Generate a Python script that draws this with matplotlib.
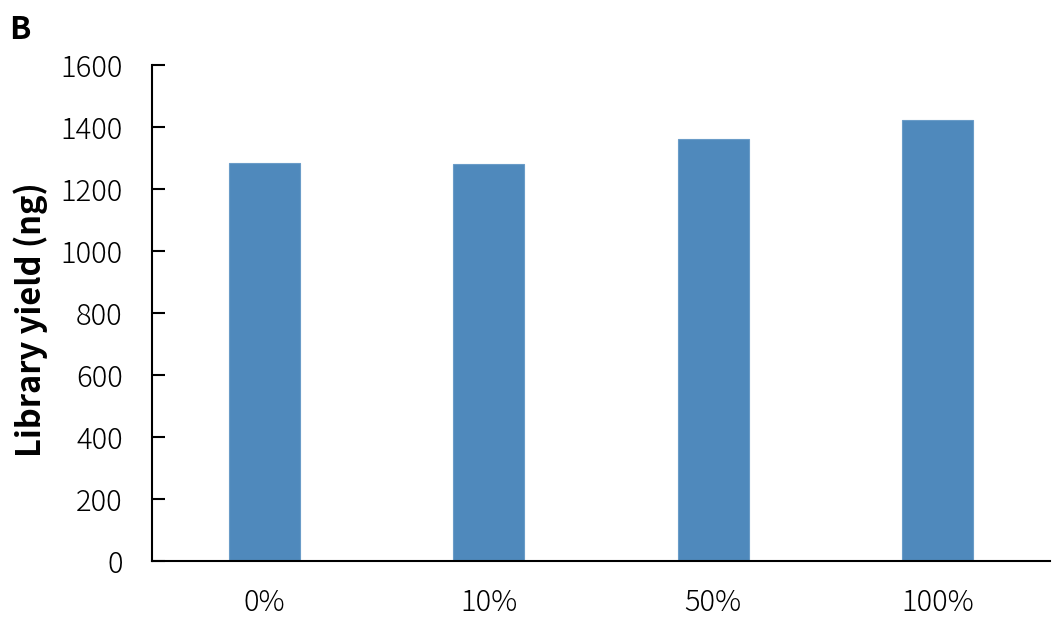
import numpy as np
import matplotlib.pyplot as plt

plt.rcParams['font.family'] = ['Noto Sans CJK JP', 'DejaVu Sans']

# Data
categories = ['0%', '10%', '50%', '100%']
yield_ng = [1284, 1281, 1361, 1423]
y_ticks = [0, 200, 400, 600, 800, 1000, 1200, 1400, 1600]

fig = plt.figure(figsize=(10.64, 6.27), dpi=100)
ax = fig.add_axes([152 / 1064, 66 / 627, (1050 - 152) / 1064, (561 - 65) / 627])

x = np.arange(len(categories))
ax.bar(x, yield_ng, width=0.316, color='#4F89BC', edgecolor='#6A9CC8', linewidth=0.8)

ax.set_xlim(-0.5, len(categories) - 0.5)
ax.set_ylim(0, 1600)
ax.set_yticks(y_ticks)
ax.set_xticks(x)
ax.set_xticklabels(categories)

ax.spines['top'].set_visible(False)
ax.spines['right'].set_visible(False)
ax.spines['left'].set_linewidth(1.5)
ax.spines['bottom'].set_linewidth(1.5)
ax.tick_params(axis='y', direction='in', length=9, width=1.5, labelsize=21, pad=21)
ax.tick_params(axis='x', length=0, labelsize=21, pad=19)
for lbl in ax.get_yticklabels() + ax.get_xticklabels():
    lbl.set_fontweight('light')

ax.set_ylabel('Library yield (ng)', fontsize=23.5, fontweight='bold')
ax.yaxis.set_label_coords(-0.116, 0.486)
fig.text(9 / 1064, 1 - 30 / 627, 'B', fontsize=22.5, fontweight='bold', va='center', ha='left')

fig.savefig('out.png', dpi=100)
